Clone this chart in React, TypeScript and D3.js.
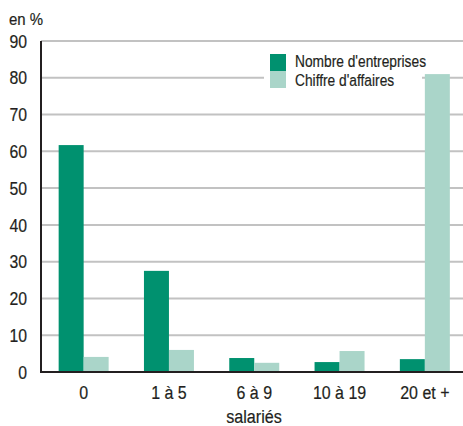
import React from "react";
import * as d3 from "d3";

const categories = ["0", "1 à 5", "6 à 9", "10 à 19", "20 et +"];
const seriesNames = ["Nombre d'entreprises", "Chiffre d'affaires"];
const entreprises = [61.7, 27.5, 3.8, 2.7, 3.5];
const chiffreAffaires = [4.1, 6.0, 2.5, 5.7, 81.0];
const yTicks = [0, 10, 20, 30, 40, 50, 60, 70, 80, 90];

const colors = ["#00916f", "#aad5c9"];
const FONT = "'Liberation Sans', Arial, sans-serif";
const INK = "#231f20";

type LabelProps = {
  x: number;
  y: number;
  size: number;
  squeeze: number;
  anchor?: "start" | "middle" | "end";
  children: React.ReactNode;
};

// Condensed text: horizontally squeezed around its anchor point
function Label({ x, y, size, squeeze, anchor = "start", children }: LabelProps) {
  return (
    <g transform={`translate(${x},${y}) scale(${squeeze},1)`}>
      <text
        x={0}
        y={0}
        fontSize={size}
        textAnchor={anchor}
        fill={INK}
        stroke={INK}
        strokeWidth={0.2}
      >
        {children}
      </text>
    </g>
  );
}

export default function App() {
  const width = 463;
  const height = 426;
  const left = 41;
  const top = 41;
  const bottom = 372;

  const x0 = d3
    .scaleBand<string>()
    .domain(categories)
    .range([left, left + 5 * 85.3])
    .paddingInner(0.414)
    .paddingOuter(0.207);
  const x1 = d3
    .scaleBand<string>()
    .domain(seriesNames)
    .range([0, x0.bandwidth()]);
  const y = d3.scaleLinear().domain([0, 90]).range([bottom, top]);

  const series = [entreprises, chiffreAffaires];

  return (
    <svg
      width={width}
      height={height}
      style={{ position: "absolute", left: 0, top: 0, background: "#fff" }}
      fontFamily={FONT}
    >
      <Label x={9} y={25} size={17} squeeze={0.88}>
        en %
      </Label>
      {yTicks.map((t) => (
        <g key={t}>
          {t > 0 && (
            <line
              x1={left}
              x2={width}
              y1={y(t)}
              y2={y(t)}
              stroke="#c2c2c2"
              strokeWidth={2}
            />
          )}
          <Label x={27} y={y(t) + 6.7} size={18.8} squeeze={0.84} anchor="end">
            {t}
          </Label>
        </g>
      ))}
      {/* legend box */}
      <rect x={264} y={46} width={158} height={46} fill="#fff" />
      {seriesNames.map((s, i) => (
        <g key={s}>
          <rect x={270} y={54 + i * 17} width={16} height={17} fill={colors[i]} />
          <Label x={295} y={67.3 + i * 18.5} size={17.2} squeeze={0.8}>
            {s}
          </Label>
        </g>
      ))}
      {categories.map((c, ci) => (
        <g key={c}>
          {seriesNames.map((s, si) => {
            const v = series[si][ci];
            return (
              <rect
                key={s}
                x={(x0(c) ?? 0) + (x1(s) ?? 0)}
                y={y(v)}
                width={x1.bandwidth()}
                height={y(0) - y(v)}
                fill={colors[si]}
              />
            );
          })}
          <Label
            x={(x0(c) ?? 0) + x0.bandwidth() / 2}
            y={399.3}
            size={18.8}
            squeeze={0.85}
            anchor="middle"
          >
            {c}
          </Label>
        </g>
      ))}
      <line x1={left} x2={width} y1={bottom} y2={bottom} stroke={INK} strokeWidth={2} />
      <line x1={left} x2={left} y1={top} y2={bottom + 1} stroke={INK} strokeWidth={2} />
      <Label x={254} y={423} size={18.8} squeeze={0.86} anchor="middle">
        salariés
      </Label>
    </svg>
  );
}
